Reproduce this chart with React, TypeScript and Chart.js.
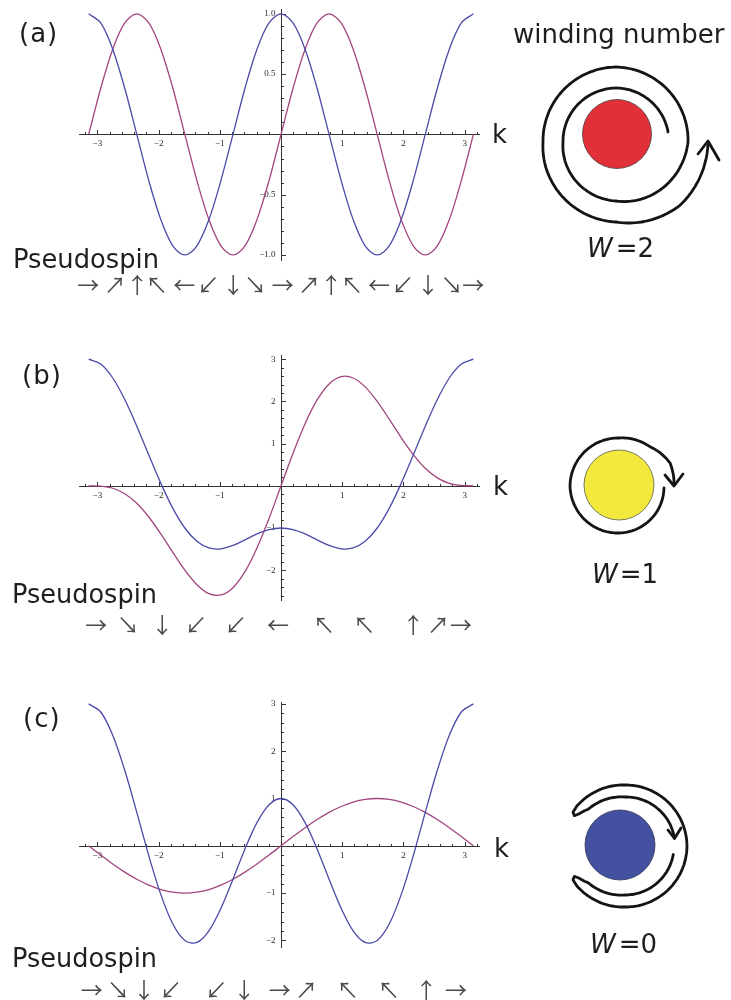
import React, { useEffect, useRef } from "react";
import { Chart, registerables } from "chart.js";

Chart.register(...registerables);

// Sample positions along the Brillouin zone, k in [-π, π]
const kValues = [
  -3.142, -2.945, -2.749, -2.553, -2.356, -2.16, -1.963, -1.767, -1.571, -1.374, -1.178,
  -0.982, -0.785, -0.589, -0.393, -0.196, 0, 0.196, 0.393, 0.589, 0.785, 0.982, 1.178,
  1.374, 1.571, 1.767, 1.963, 2.16, 2.356, 2.553, 2.749, 2.945, 3.142,
];

// (a) W = 2
const dxW2 = [
  1, 0.924, 0.707, 0.383, 0, -0.383, -0.707, -0.924, -1, -0.924, -0.707, -0.383, 0, 0.383,
  0.707, 0.924, 1, 0.924, 0.707, 0.383, 0, -0.383, -0.707, -0.924, -1, -0.924, -0.707,
  -0.383, 0, 0.383, 0.707, 0.924, 1,
];
const dyW2 = [
  0, 0.383, 0.707, 0.924, 1, 0.924, 0.707, 0.383, 0, -0.383, -0.707, -0.924, -1, -0.924,
  -0.707, -0.383, 0, 0.383, 0.707, 0.924, 1, 0.924, 0.707, 0.383, 0, -0.383, -0.707,
  -0.924, -1, -0.924, -0.707, -0.383, 0,
];

// (b) W = 1
const dxW1 = [
  3, 2.885, 2.555, 2.046, 1.414, 0.728, 0.058, -0.534, -1, -1.314, -1.473, -1.494, -1.414,
  -1.28, -1.141, -1.038, -1, -1.038, -1.141, -1.28, -1.414, -1.494, -1.473, -1.314, -1,
  -0.534, 0.058, 0.728, 1.414, 2.046, 2.555, 2.885, 3,
];
const dyW1 = [
  0, -0.008, -0.058, -0.187, -0.414, -0.739, -1.141, -1.579, -2, -2.344, -2.555, -2.587,
  -2.414, -2.035, -1.472, -0.773, 0, 0.773, 1.472, 2.035, 2.414, 2.587, 2.555, 2.344, 2,
  1.579, 1.141, 0.739, 0.414, 0.187, 0.058, 0.008, 0,
];

// (c) W = 0
const dxW0 = [
  3, 2.829, 2.338, 1.597, 0.707, -0.21, -1.032, -1.653, -2, -2.043, -1.797, -1.321, -0.707,
  -0.066, 0.49, 0.867, 1, 0.867, 0.49, -0.066, -0.707, -1.321, -1.797, -2.043, -2, -1.653,
  -1.032, -0.21, 0.707, 1.597, 2.338, 2.829, 3,
];
const dyW0 = [
  0, -0.195, -0.383, -0.556, -0.707, -0.831, -0.924, -0.981, -1, -0.981, -0.924, -0.831,
  -0.707, -0.556, -0.383, -0.195, 0, 0.195, 0.383, 0.556, 0.707, 0.831, 0.924, 0.981, 1,
  0.981, 0.924, 0.831, 0.707, 0.556, 0.383, 0.195, 0,
];

// Tick labels
const xTickValues = [-3, -2, -1, 1, 2, 3];
const xTickLabels = ["−3", "−2", "−1", "1", "2", "3"];
const yTickValuesA = [-1, -0.5, 0.5, 1];
const yTickLabelsA = ["−1.0", "−0.5", "0.5", "1.0"];
const yTickValuesBC = [-2, -1, 1, 2, 3];
const yTickLabelsBC = ["−2", "−1", "1", "2", "3"];

// Pseudospin direction rows and the k where each arrow sits
const spinA = ["→", "↗", "↑", "↖", "←", "↙", "↓", "↘", "→", "↗", "↑", "↖", "←", "↙", "↓", "↘", "→"];
const spinAk = [-3.15, -2.71, -2.35, -2.03, -1.58, -1.19, -0.78, -0.42, 0.03, 0.46, 0.82, 1.16, 1.6, 1.99, 2.4, 2.79, 3.14];
const spinB = ["→", "↘", "↓", "↙", "↙", "←", "↖", "↖", "↑", "↗", "→"];
const spinBk = [-3.02, -2.5, -1.94, -1.39, -0.74, -0.05, 0.7, 1.36, 2.16, 2.57, 2.94];
const spinC = ["→", "↘", "↓", "↙", "↙", "↓", "→", "↗", "↖", "↖", "↑", "→"];
const spinCk = [-3.09, -2.66, -2.24, -1.8, -1.06, -0.6, -0.02, 0.41, 1.09, 1.76, 2.37, 2.86];

const BLUE = "#4a4aa8";
const RED = "#a2457e";

type Panel = {
  top: number;
  height: number;
  pad: { left: number; right: number; top: number; bottom: number };
  yMin: number;
  yMax: number;
  yMinor: number;
  dx: number[];
  dy: number[];
  yTicks: number[];
  yLabels: string[];
  spin: string[];
  spinK: number[];
  spinY: number;
};

const panels: Panel[] = [
  {
    top: 0, height: 300, pad: { left: 19, right: 20, top: 9, bottom: 39 },
    yMin: -1.05, yMax: 1.04, yMinor: 0.1, dx: dxW2, dy: dyW2,
    yTicks: yTickValuesA, yLabels: yTickLabelsA, spin: spinA, spinK: spinAk, spinY: 285,
  },
  {
    top: 340, height: 300, pad: { left: 19, right: 20, top: 15, bottom: 39 },
    yMin: -2.73, yMax: 3.1, yMinor: 0.2, dx: dxW1, dy: dyW1,
    yTicks: yTickValuesBC, yLabels: yTickLabelsBC, spin: spinB, spinK: spinBk, spinY: 285,
  },
  {
    top: 690, height: 310, pad: { left: 19, right: 20, top: 12, bottom: 52 },
    yMin: -2.16, yMax: 3.04, yMinor: 0.2, dx: dxW0, dy: dyW0,
    yTicks: yTickValuesBC, yLabels: yTickLabelsBC, spin: spinC, spinK: spinCk, spinY: 300,
  },
];

function makeAxesPlugin(p: Panel) {
  return {
    id: "centredAxes",
    beforeDatasetsDraw(chart: any) {
      const { ctx, chartArea: a } = chart;
      const xs = chart.scales.x;
      const ys = chart.scales.y;
      const x0 = Math.round(xs.getPixelForValue(0)) + 0.5;
      const y0 = Math.round(ys.getPixelForValue(0)) + 0.5;
      ctx.save();
      ctx.strokeStyle = "#333";
      ctx.lineWidth = 1;
      ctx.beginPath();
      ctx.moveTo(a.left, y0);
      ctx.lineTo(a.right, y0);
      ctx.moveTo(x0, a.top);
      ctx.lineTo(x0, a.bottom);
      const nx0 = Math.ceil(xs.min / 0.2 - 1e-6);
      const nx1 = Math.floor(xs.max / 0.2 + 1e-6);
      for (let n = nx0; n <= nx1; n++) {
        if (n === 0) continue;
        const px = Math.round(xs.getPixelForValue(n * 0.2)) + 0.5;
        const len = n % 5 === 0 ? 4.5 : 2.5;
        ctx.moveTo(px, y0);
        ctx.lineTo(px, y0 - len);
      }
      const ny0 = Math.ceil(ys.min / p.yMinor - 1e-6);
      const ny1 = Math.floor(ys.max / p.yMinor + 1e-6);
      for (let n = ny0; n <= ny1; n++) {
        if (n === 0) continue;
        const py = Math.round(ys.getPixelForValue(n * p.yMinor)) + 0.5;
        const len = n % 5 === 0 ? 4.5 : 2.5;
        ctx.moveTo(x0, py);
        ctx.lineTo(x0 + len, py);
      }
      ctx.stroke();
      ctx.fillStyle = "#2a2a2a";
      ctx.font = '9px "Liberation Serif"';
      ctx.textAlign = "center";
      ctx.textBaseline = "top";
      xTickValues.forEach((v, i) => ctx.fillText(xTickLabels[i], xs.getPixelForValue(v), y0 + 5));
      ctx.textAlign = "right";
      ctx.textBaseline = "middle";
      p.yTicks.forEach((v, i) => ctx.fillText(p.yLabels[i], x0 - 6, ys.getPixelForValue(v)));
      ctx.restore();
    },
    afterDatasetsDraw(chart: any) {
      const { ctx } = chart;
      const xs = chart.scales.x;
      ctx.save();
      ctx.fillStyle = "#4a4a4a";
      ctx.font = '22px "Noto Sans CJK JP"';
      ctx.textAlign = "center";
      ctx.textBaseline = "middle";
      p.spin.forEach((s, i) => ctx.fillText(s, xs.getPixelForValue(p.spinK[i]), p.spinY));
      ctx.restore();
    },
  };
}

function BandPanel({ p }: { p: Panel }) {
  const ref = useRef<HTMLCanvasElement | null>(null);
  useEffect(() => {
    if (!ref.current) return;
    const chart = new Chart(ref.current, {
      type: "line",
      data: {
        datasets: [
          {
            data: kValues.map((k, i) => ({ x: k, y: p.dx[i] })),
            borderColor: BLUE,
          },
          {
            data: kValues.map((k, i) => ({ x: k, y: p.dy[i] })),
            borderColor: RED,
          },
        ],
      },
      options: {
        responsive: false,
        animation: false,
        devicePixelRatio: 1,
        events: [],
        layout: { padding: p.pad },
        scales: {
          x: { type: "linear", min: -3.3, max: 3.25, display: false },
          y: { type: "linear", min: p.yMin, max: p.yMax, display: false },
        },
        plugins: { legend: { display: false }, tooltip: { enabled: false } },
        elements: {
          point: { radius: 0 },
          line: { borderWidth: 1.3, tension: 0.33, fill: false },
        },
      },
      plugins: [makeAxesPlugin(p)],
    } as any);
    return () => chart.destroy();
  }, [p]);
  return (
    <canvas
      ref={ref}
      width={440}
      height={p.height}
      style={{ position: "absolute", left: 60, top: p.top, width: 440, height: p.height }}
    />
  );
}

// Polar polyline through (angle°, radius) control points, screen angles (y down)
function ringPath(cx: number, cy: number, pts: [number, number][], step = 2) {
  let d = "";
  for (let i = 0; i < pts.length - 1; i++) {
    const [a0, r0] = pts[i];
    const [a1, r1] = pts[i + 1];
    const n = Math.max(1, Math.ceil(Math.abs(a1 - a0) / step));
    for (let j = i === 0 ? 0 : 1; j <= n; j++) {
      const t = j / n;
      const a = ((a0 + (a1 - a0) * t) * Math.PI) / 180;
      const r = r0 + (r1 - r0) * t;
      const X = cx + r * Math.cos(a);
      const Y = cy + r * Math.sin(a);
      d += (d ? " L" : "M") + X.toFixed(1) + " " + Y.toFixed(1);
    }
  }
  return d;
}

const spiralW2 = ringPath(616, 142, [
  [-11, 53], [-90, 54], [-180, 53], [-270, 59], [-360, 72], [-450, 75], [-540, 73],
  [-630, 80], [-675, 90], [-718, 92],
]);
const spiralW1 = ringPath(619, 486, [
  [2.5, 45], [90, 47], [180, 49], [270, 48], [308, 50], [336, 56], [359, 55],
]);
const loopW0 = ringPath(625, 846, [
  [10, 49], [90, 49], [135, 52], [145, 56], [149, 59], [147, 62], [140, 62.5], [90, 61],
  [0, 62], [-90, 61], [-140, 62.5], [-147, 62], [-149, 59], [-145, 56], [-135, 52],
  [-90, 49], [-30, 50], [-9, 50],
]);

const textFont = '"DejaVu Sans", sans-serif';

function Overlay() {
  const ink = "#1e1e22";
  const stroke = { fill: "none", stroke: "#141414", strokeWidth: 2.8, strokeLinecap: "round" as const, strokeLinejoin: "round" as const };
  return (
    <svg
      width={731}
      height={1000}
      style={{ position: "absolute", left: 0, top: 0, pointerEvents: "none" }}
    >
      <g fontFamily={textFont} fill={ink}>
        <text x={19} y={42} fontSize={26} letterSpacing={1}>(a)</text>
        <text x={22} y={384} fontSize={26} letterSpacing={1}>(b)</text>
        <text x={23} y={727} fontSize={26} letterSpacing={1}>(c)</text>
        <text x={513} y={43} fontSize={26}>winding number</text>
        <text x={13} y={268} fontSize={26} textLength={146} lengthAdjust="spacingAndGlyphs">Pseudospin</text>
        <text x={12} y={603} fontSize={26} textLength={145} lengthAdjust="spacingAndGlyphs">Pseudospin</text>
        <text x={12} y={967} fontSize={26} textLength={145} lengthAdjust="spacingAndGlyphs">Pseudospin</text>
        <text x={492} y={143} fontSize={26}>k</text>
        <text x={493} y={495} fontSize={26}>k</text>
        <text x={494} y={857} fontSize={26}>k</text>
        <text x={587} y={257} fontSize={26}>
          <tspan fontStyle="italic">W</tspan>
          <tspan dx={3}>=2</tspan>
        </text>
        <text x={592} y={583} fontSize={26}>
          <tspan fontStyle="italic">W</tspan>
          <tspan dx={2}>=1</tspan>
        </text>
        <text x={590} y={953} fontSize={26}>
          <tspan fontStyle="italic">W</tspan>
          <tspan dx={3}>=0</tspan>
        </text>
      </g>

      <circle cx={617} cy={134} r={34.5} fill="#e13037" stroke="#4a3a3a" strokeWidth={0.8} />
      <path d={spiralW2} {...stroke} />
      <polyline points="698,154 708,141 719,160" {...stroke} />

      <circle cx={619} cy={485} r={35} fill="#f2e93c" stroke="#5a5a4a" strokeWidth={0.8} />
      <path d={spiralW1} {...stroke} />
      <polyline points="665,475 674,486 683,474" {...stroke} />

      <circle cx={620} cy={845} r={35} fill="#4451a1" stroke="#333355" strokeWidth={0.8} />
      <path d={loopW0} {...stroke} />
      <polyline points="668,830 674.5,838.5 681,828" {...stroke} />
    </svg>
  );
}

export default function App() {
  return (
    <div
      style={{
        position: "absolute",
        left: 0,
        top: 0,
        width: 731,
        height: 1000,
        background: "#fff",
        overflow: "hidden",
      }}
    >
      {panels.map((p, i) => (
        <BandPanel key={i} p={p} />
      ))}
      <Overlay />
    </div>
  );
}
